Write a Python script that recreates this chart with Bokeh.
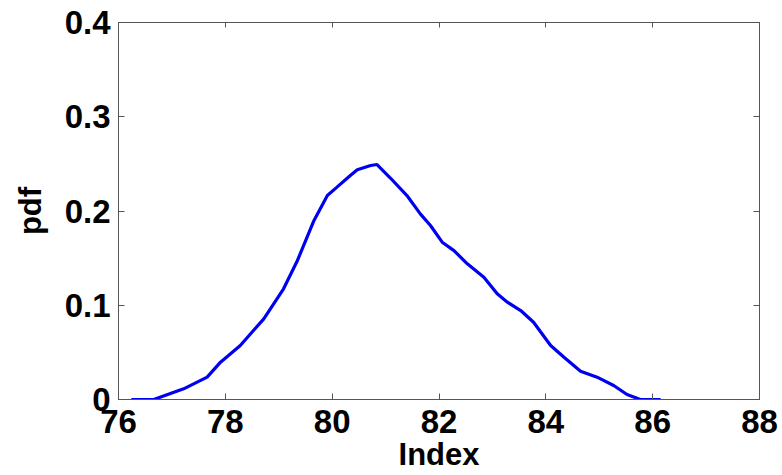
from bokeh.plotting import figure
from bokeh.models import LinearAxis, FixedTicker, Range1d
from bokeh.embed import file_html
from bokeh.resources import INLINE

# data
index_vals = [76.24, 76.66, 77.22, 77.66, 77.91, 78.28, 78.72, 79.09, 79.35, 79.66,
              79.91, 80.09, 80.34, 80.47, 80.72, 80.84, 81.09, 81.40, 81.65, 81.84,
              82.06, 82.28, 82.53, 82.84, 83.09, 83.28, 83.53, 83.77, 84.09, 84.34,
              84.65, 84.96, 85.27, 85.52, 85.77, 86.15]
pdf_vals = [0.0, 0.0, 0.0113, 0.0237, 0.0396, 0.0573, 0.0856, 0.1175, 0.1475, 0.190,
            0.2164, 0.2253, 0.2377, 0.2437, 0.2483, 0.2493, 0.235, 0.2164, 0.197, 0.1846,
            0.1669, 0.158, 0.144, 0.1298, 0.1121, 0.1032, 0.0944, 0.082, 0.0573, 0.0449,
            0.030, 0.0237, 0.0149, 0.0053, 0.0, 0.0]
x_ticks = [76, 78, 80, 82, 84, 86, 88]
y_ticks = [0, 0.1, 0.2, 0.3, 0.4]
y_tick_labels = {0: "0", 0.1: "0.1", 0.2: "0.2", 0.3: "0.3", 0.4: "0.4"}

AX = "#555555"
FONT = "Liberation Sans"

p = figure(width=782, height=475, output_backend="svg", toolbar_location=None,
           x_range=Range1d(76, 88), y_range=Range1d(0, 0.4),
           min_border_left=118, min_border_right=23, min_border_top=22, min_border_bottom=76,
           x_axis_label="Index", y_axis_label="pdf")
p.background_fill_color = "white"
p.border_fill_color = "white"
p.outline_line_color = AX
p.outline_line_width = 1
p.grid.visible = False

p.line(index_vals, pdf_vals, line_color="#0000f0", line_width=3.2)

for ax in (p.xaxis[0], p.yaxis[0]):
    ax.axis_line_color = AX
    ax.major_tick_line_color = AX
    ax.major_tick_in = 6
    ax.major_tick_out = 0
    ax.minor_tick_line_color = None
    ax.major_label_text_font = FONT
    ax.major_label_text_font_style = "bold"
    ax.major_label_text_font_size = "33px"
    ax.major_label_text_color = "black"
    ax.axis_label_text_font = FONT
    ax.axis_label_text_font_style = "bold"
    ax.axis_label_text_font_size = "31px"
    ax.axis_label_text_color = "black"

p.xaxis[0].ticker = FixedTicker(ticks=x_ticks)
p.yaxis[0].ticker = FixedTicker(ticks=y_ticks)
p.yaxis[0].major_label_overrides = y_tick_labels
p.xaxis[0].major_label_standoff = 10
p.xaxis[0].axis_label_standoff = 1
p.yaxis[0].major_label_standoff = 8
p.yaxis[0].axis_label_standoff = 14

# mirrored inward ticks on top and right (no labels)
top = LinearAxis(ticker=FixedTicker(ticks=x_ticks),
                 major_label_overrides={t: "" for t in x_ticks},
                 axis_line_color=AX, major_tick_line_color=AX, major_tick_in=5, major_tick_out=0,
                 minor_tick_line_color=None, major_label_standoff=0)
right = LinearAxis(ticker=FixedTicker(ticks=y_ticks),
                   major_label_overrides={t: "" for t in y_ticks},
                   axis_line_color=AX, major_tick_line_color=AX, major_tick_in=6, major_tick_out=0,
                   minor_tick_line_color=None, major_label_standoff=0)
p.add_layout(top, "above")
p.add_layout(right, "right")

open("out.html", "w").write(file_html(p, INLINE))
